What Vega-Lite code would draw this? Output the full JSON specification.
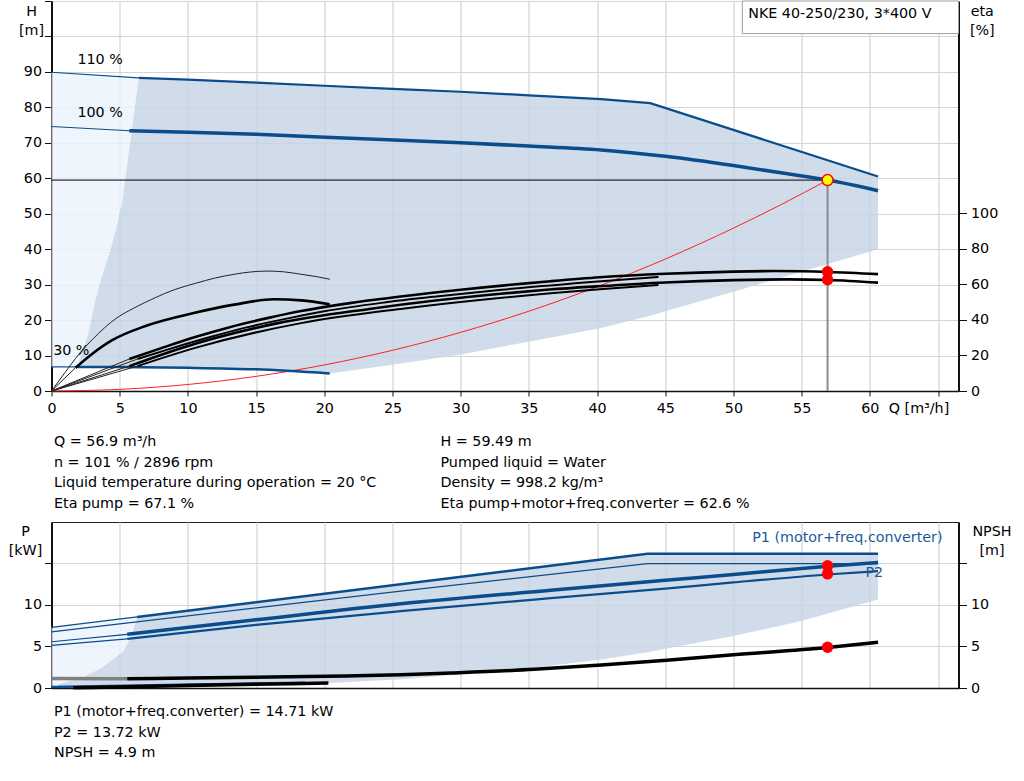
{
"$schema": "https://vega.github.io/schema/vega-lite/v6.json",
"padding": {"left": 7.5, "top": 0, "right": 5, "bottom": 0},
"bounds": "flush",
"spacing": 0,
"config": {
  "font": "DejaVu Sans",
  "view": {"stroke": null},
  "axis": {"labelFontSize": 14.3, "titleFontSize": 14.3, "titleFontWeight": "normal", "labelColor": "#000", "titleColor": "#000", "domainColor": "#111", "tickColor": "#111", "gridColor": "#d4d4d4", "gridWidth": 1.2, "labelFont": "DejaVu Sans", "titleFont": "DejaVu Sans"},
  "text": {"font": "DejaVu Sans", "fontSize": 14.3}
},
"datasets": {
  "lightTop": [
    {"Q":0,"lo":6.8,"hi":89.9},{"Q":1.9,"lo":6.8,"hi":89.43},{"Q":2.7,"lo":16.1,"hi":89.23},{"Q":3.2,"lo":25.4,"hi":89.1},{"Q":3.6,"lo":31,"hi":89.0},{"Q":4.3,"lo":39.5,"hi":88.83},{"Q":4.7,"lo":45.1,"hi":88.73},{"Q":5.2,"lo":53.6,"hi":88.6},{"Q":5.8,"lo":71,"hi":88.45},{"Q":6.4,"lo":88.3,"hi":88.3}
  ],
  "greyTop": [
    {"Q":1.9,"lo":6.8,"hi":6.8},{"Q":2.7,"lo":6.8,"hi":16.1},{"Q":3.2,"lo":6.8,"hi":25.4},{"Q":3.6,"lo":6.8,"hi":31},{"Q":4.3,"lo":6.75,"hi":39.5},{"Q":4.7,"lo":6.75,"hi":45.1},{"Q":5.2,"lo":6.75,"hi":53.6},{"Q":5.8,"lo":6.72,"hi":71},{"Q":6.4,"lo":6.7,"hi":88.3},{"Q":10,"lo":6.55,"hi":87.8},{"Q":15,"lo":6.1,"hi":87.0},{"Q":20.4,"lo":4.95,"hi":86.0},{"Q":25,"lo":7.4,"hi":85.2},{"Q":30,"lo":10.3,"hi":84.4},{"Q":35,"lo":13.9,"hi":83.4},{"Q":40.3,"lo":17.8,"hi":82.3},{"Q":43.9,"lo":21.2,"hi":81.2},{"Q":45,"lo":22.5,"hi":79.8},{"Q":50,"lo":28.0,"hi":73.6},{"Q":55,"lo":33.6,"hi":67.4},{"Q":60.6,"lo":40.0,"hi":60.5}
  ],
  "hThin": [
    {"s":"110a","Q":0,"H":89.9},{"s":"110a","Q":6.4,"H":88.3},
    {"s":"100a","Q":0,"H":74.6},{"s":"100a","Q":5.7,"H":73.4},
    {"s":"30a","Q":0,"H":6.8},{"s":"30a","Q":1.8,"H":6.8}
  ],
  "h110": [
    {"Q":6.4,"H":88.3},{"Q":10,"H":87.8},{"Q":15,"H":87.0},{"Q":20,"H":86.1},{"Q":25,"H":85.2},{"Q":30,"H":84.4},{"Q":35,"H":83.4},{"Q":40.3,"H":82.3},{"Q":43.9,"H":81.2},{"Q":60.6,"H":60.5}
  ],
  "h100": [
    {"Q":5.7,"H":73.4},{"Q":10,"H":73.0},{"Q":15,"H":72.4},{"Q":21.9,"H":71.3},{"Q":30,"H":70.0},{"Q":35,"H":69.1},{"Q":40.3,"H":68.0},{"Q":45,"H":66.2},{"Q":50,"H":63.6},{"Q":54.9,"H":60.7},{"Q":56.9,"H":59.49},{"Q":60.6,"H":56.5}
  ],
  "h30": [
    {"Q":1.8,"H":6.8},{"Q":5,"H":6.75},{"Q":10,"H":6.55},{"Q":15,"H":6.1},{"Q":20.4,"H":4.95}
  ],
  "sys": [
    {"Q":0,"H":0},{"Q":5,"H":0.46},{"Q":10,"H":1.84},{"Q":15,"H":4.13},{"Q":20,"H":7.35},{"Q":25,"H":11.48},{"Q":30,"H":16.54},{"Q":35,"H":22.51},{"Q":40,"H":29.4},{"Q":45,"H":37.21},{"Q":50,"H":45.94},{"Q":53.5,"H":52.59},{"Q":56.9,"H":59.49}
  ],
  "opH": [{"Q":0,"H":59.49},{"Q":56.9,"H":59.49}],
  "opV": [{"Q":56.9,"H":0},{"Q":56.9,"H":59.49}],
  "op": [{"Q":56.9,"H":59.49}],
  "labelsTop": [
    {"Q":1.9,"H":93.4,"t":"110 %"},{"Q":1.9,"H":78.3,"t":"100 %"},{"Q":0.12,"H":11.3,"t":"30 %"}
  ],
  "box": [{"Q":50.65,"Q2":66.5,"H":100.8,"H2":110}],
  "boxText": [{"Q":51.08,"H":106.3,"t":"NKE 40-250/230, 3*400 V"}],
  "etaThin": [
    {"s":"p30","Q":0,"E":0},{"s":"p30","Q":1,"E":10.5},{"s":"p30","Q":2,"E":20.6},{"s":"p30","Q":3,"E":29},{"s":"p30","Q":4.8,"E":41.2},{"s":"p30","Q":6,"E":46.5},{"s":"p30","Q":7.6,"E":52.5},{"s":"p30","Q":9,"E":57},{"s":"p30","Q":10.56,"E":60.6},{"s":"p30","Q":12,"E":63.6},{"s":"p30","Q":13.4,"E":65.7},{"s":"p30","Q":14.6,"E":67},{"s":"p30","Q":15.8,"E":67.5},{"s":"p30","Q":17,"E":67.1},{"s":"p30","Q":18.3,"E":65.7},{"s":"p30","Q":19.4,"E":64.4},{"s":"p30","Q":20.4,"E":62.9},
    {"s":"t30a","Q":0,"E":0},{"s":"t30a","Q":1.76,"E":13.1},
    {"s":"p100a","Q":0,"E":0},{"s":"p100a","Q":5.7,"E":18},
    {"s":"p110a","Q":0,"E":0},{"s":"p110a","Q":6.3,"E":18},
    {"s":"t100a","Q":0,"E":0},{"s":"t100a","Q":5.7,"E":14},
    {"s":"t110a","Q":0,"E":0},{"s":"t110a","Q":6.3,"E":14}
  ],
  "etaThick": [
    {"s":"t30","Q":1.76,"E":13.1},{"s":"t30","Q":3,"E":21},{"s":"t30","Q":4.45,"E":28.6},{"s":"t30","Q":6.9,"E":36.6},{"s":"t30","Q":10.5,"E":44},{"s":"t30","Q":13.4,"E":48.6},{"s":"t30","Q":16.3,"E":51.6},{"s":"t30","Q":18.3,"E":51},{"s":"t30","Q":20.4,"E":48.8},
    {"s":"p100","Q":5.7,"E":18},{"s":"p100","Q":8,"E":24},{"s":"p100","Q":10.6,"E":30.5},{"s":"p100","Q":13,"E":35.8},{"s":"p100","Q":16,"E":41.3},{"s":"p100","Q":18.3,"E":45},{"s":"p100","Q":22,"E":49.6},{"s":"p100","Q":25.6,"E":53.2},{"s":"p100","Q":30,"E":57},{"s":"p100","Q":36.6,"E":61.8},{"s":"p100","Q":40.2,"E":64},{"s":"p100","Q":45,"E":66},{"s":"p100","Q":50,"E":67.2},{"s":"p100","Q":53,"E":67.5},{"s":"p100","Q":57,"E":67},{"s":"p100","Q":60.6,"E":65.8},
    {"s":"t100","Q":5.7,"E":14},{"s":"t100","Q":9.6,"E":24.4},{"s":"t100","Q":16.6,"E":38.2},{"s":"t100","Q":23.3,"E":46.2},{"s":"t100","Q":33.3,"E":55},{"s":"t100","Q":36.5,"E":57.1},{"s":"t100","Q":40,"E":58.9},{"s":"t100","Q":45,"E":61.1},{"s":"t100","Q":50,"E":62.4},{"s":"t100","Q":54,"E":62.8},{"s":"t100","Q":57,"E":62.5},{"s":"t100","Q":60.6,"E":61.0}
  ],
  "etaThick2": [
    {"s":"p110","Q":6.3,"E":18},{"s":"p110","Q":8.8,"E":24},{"s":"p110","Q":11.7,"E":30.5},{"s":"p110","Q":14.3,"E":35.8},{"s":"p110","Q":17.6,"E":41.3},{"s":"p110","Q":20.1,"E":45},{"s":"p110","Q":24.2,"E":49.6},{"s":"p110","Q":28.2,"E":53.2},{"s":"p110","Q":33,"E":57},{"s":"p110","Q":40.3,"E":61.8},{"s":"p110","Q":44.5,"E":64.2},
    {"s":"t110","Q":6.3,"E":14},{"s":"t110","Q":10.6,"E":24.4},{"s":"t110","Q":18.3,"E":38.2},{"s":"t110","Q":25.6,"E":46.2},{"s":"t110","Q":36.6,"E":55},{"s":"t110","Q":40.2,"E":57.3},{"s":"t110","Q":44.5,"E":59.6}
  ],
  "etaDots": [{"Q":56.9,"E":67.1},{"Q":56.9,"E":62.6}],
  "lightBot": [
    {"Q":0,"lo":0.12,"hi":7.3},{"Q":0.5,"lo":0.44,"hi":7.4},{"Q":2.25,"lo":1.24,"hi":7.75},{"Q":3.7,"lo":2.44,"hi":8.05},{"Q":5.3,"lo":4.44,"hi":8.35},{"Q":5.9,"lo":6.45,"hi":8.47},{"Q":6.28,"lo":8.55,"hi":8.55}
  ],
  "greyBot": [
    {"Q":0.5,"lo":0.15,"hi":0.44},{"Q":2.25,"lo":0.2,"hi":1.24},{"Q":3.7,"lo":0.25,"hi":2.44},{"Q":5.3,"lo":0.3,"hi":4.44},{"Q":5.9,"lo":0.32,"hi":6.45},{"Q":6.28,"lo":0.33,"hi":8.55},{"Q":10,"lo":0.38,"hi":9.31},{"Q":15,"lo":0.46,"hi":10.32},{"Q":20.4,"lo":0.6,"hi":11.42},{"Q":25.6,"lo":1.04,"hi":12.47},{"Q":30.5,"lo":1.72,"hi":13.47},{"Q":35.4,"lo":2.44,"hi":14.46},{"Q":40.3,"lo":3.44,"hi":15.46},{"Q":43.7,"lo":4.3,"hi":16.15},{"Q":45.1,"lo":4.76,"hi":16.15},{"Q":50,"lo":6.24,"hi":16.15},{"Q":54.9,"lo":8.04,"hi":16.15},{"Q":60.6,"lo":10.65,"hi":16.15}
  ],
  "pThin": [
    {"s":"P1_110a","Q":0,"P":7.3},{"s":"P1_110a","Q":6.28,"P":8.55},
    {"s":"P2_110","Q":0,"P":6.76},{"s":"P2_110","Q":25.6,"P":11.65},{"s":"P2_110","Q":43.7,"P":14.95},{"s":"P2_110","Q":60.6,"P":14.95},
    {"s":"P1_100a","Q":0,"P":5.56},{"s":"P1_100a","Q":5.55,"P":6.45},
    {"s":"P2_100a","Q":0,"P":5.12},{"s":"P2_100a","Q":5.55,"P":5.9}
  ],
  "p110": [{"Q":6.28,"P":8.55},{"Q":25.6,"P":12.47},{"Q":43.7,"P":16.15},{"Q":60.6,"P":16.15}],
  "p100": [{"Q":5.55,"P":6.45},{"Q":15,"P":8.2},{"Q":25.6,"P":10.12},{"Q":36.6,"P":11.75},{"Q":45,"P":12.95},{"Q":50,"P":13.65},{"Q":56.9,"P":14.65},{"Q":60.6,"P":15.1}],
  "p2_100": [{"Q":5.55,"P":5.9},{"Q":15,"P":7.6},{"Q":25.6,"P":9.24},{"Q":36.6,"P":10.8},{"Q":45,"P":11.95},{"Q":50,"P":12.7},{"Q":56.9,"P":13.65},{"Q":60.6,"P":14.05}],
  "p30": [{"Q":0,"P":0.12},{"Q":18.6,"P":0.64}],
  "pDots": [{"Q":56.9,"P":14.71},{"Q":56.9,"P":13.72}],
  "pText": [{"Q":51.37,"P":17.98,"t":"P1 (motor+freq.converter)"},{"Q":59.68,"P":13.77,"t":"P2"}],
  "nGrey": [{"Q":0,"N":1.15},{"Q":5.55,"N":1.12}],
  "nBlack": [
    {"s":"n100","Q":5.55,"N":1.1},{"s":"n100","Q":10,"N":1.2},{"s":"n100","Q":15,"N":1.3},{"s":"n100","Q":21.6,"N":1.45},{"s":"n100","Q":25.6,"N":1.58},{"s":"n100","Q":29.3,"N":1.8},{"s":"n100","Q":35.4,"N":2.24},{"s":"n100","Q":40.3,"N":2.76},{"s":"n100","Q":45.1,"N":3.35},{"s":"n100","Q":50,"N":4.0},{"s":"n100","Q":56.9,"N":4.88},{"s":"n100","Q":60.6,"N":5.5},
    {"s":"n30","Q":1.6,"N":0.02},{"s":"n30","Q":10,"N":0.3},{"s":"n30","Q":20.3,"N":0.6}
  ],
  "nDot": [{"Q":56.9,"N":4.9}],
  "info1": [
    {"col":0,"row":0,"t":"Q = 56.9 m³/h"},{"col":0,"row":1,"t":"n = 101 % / 2896 rpm"},{"col":0,"row":2,"t":"Liquid temperature during operation = 20 °C"},{"col":0,"row":3,"t":"Eta pump = 67.1 %"},
    {"col":1,"row":0,"t":"H = 59.49 m"},{"col":1,"row":1,"t":"Pumped liquid = Water"},{"col":1,"row":2,"t":"Density = 998.2 kg/m³"},{"col":1,"row":3,"t":"Eta pump+motor+freq.converter = 62.6 %"}
  ],
  "info2": [
    {"col":0,"row":0,"t":"P1 (motor+freq.converter) = 14.71 kW"},{"col":0,"row":1,"t":"P2 = 13.72 kW"},{"col":0,"row":2,"t":"NPSH = 4.9 m"}
  ]
},
"vconcat": [
  {
    "width": 907, "height": 390,
    "view": {"stroke": "#9e9e9e", "strokeWidth": 1},
    "encoding": {
      "x": {"field": "Q", "type": "quantitative", "scale": {"domain": [0, 66.5], "nice": false, "zero": false},
        "axis": {"values": [0,5,10,15,20,25,30,35,40,45,50,55,60,65], "title": "Q [m³/h]", "titleX": 867, "titleY": 17.5, "titleAlign": "center", "titleBaseline": "middle", "labelExpr": "datum.value > 62 ? '' : datum.label", "tickSize": 5, "labelPadding": 5, "grid": true, "domainWidth": 1.5, "labelFlush": false, "labelOverlap": false}}
    },
    "layer": [
      {"data": {"name": "lightTop"}, "mark": {"type": "area", "fill": "#eaf3fc", "fillOpacity": 0.8, "stroke": null},
       "encoding": {"y": {"field": "lo", "type": "quantitative", "scale": {"domain": [0, 110], "nice": false, "zero": false},
         "axis": {"orient": "left", "values": [0,10,20,30,40,50,60,70,80,90,100,110], "title": ["H", "[m]"], "titleAngle": 0, "titleX": -20.5, "titleY": 3, "titleAlign": "center", "titleBaseline": "top", "titleLineHeight": 19, "labelExpr": "datum.value >= 100 ? '' : datum.label", "tickSize": 7, "labelPadding": 3, "grid": true, "domainWidth": 2}},
         "y2": {"field": "hi"}}},
      {"data": {"name": "greyTop"}, "mark": {"type": "area", "fill": "#c4d3e3", "fillOpacity": 0.8, "stroke": null},
       "encoding": {"y": {"field": "lo", "type": "quantitative", "scale": {"domain": [0, 110], "nice": false, "zero": false}, "axis": null}, "y2": {"field": "hi"}}},
      {"data": {"name": "opV"}, "mark": {"type": "line", "color": "#8c8c8c", "strokeWidth": 2},
       "encoding": {"y": {"field": "H", "type": "quantitative", "scale": {"domain": [0, 110], "nice": false, "zero": false}, "axis": null}}},
      {"data": {"name": "opH"}, "mark": {"type": "line", "color": "#000000", "strokeWidth": 1},
       "encoding": {"y": {"field": "H", "type": "quantitative", "scale": {"domain": [0, 110], "nice": false, "zero": false}, "axis": null}}},
      {"data": {"name": "sys"}, "mark": {"type": "line", "color": "#ff2020", "strokeWidth": 1, "interpolate": "monotone"},
       "encoding": {"y": {"field": "H", "type": "quantitative", "scale": {"domain": [0, 110], "nice": false, "zero": false}, "axis": null}}},
      {"data": {"name": "hThin"}, "mark": {"type": "line", "color": "#0b4c8c", "strokeWidth": 1.2},
       "encoding": {"y": {"field": "H", "type": "quantitative", "scale": {"domain": [0, 110], "nice": false, "zero": false}, "axis": null}, "detail": {"field": "s"}}},
      {"data": {"name": "h30"}, "mark": {"type": "line", "color": "#0b4c8c", "strokeWidth": 2.5, "interpolate": "monotone"},
       "encoding": {"y": {"field": "H", "type": "quantitative", "scale": {"domain": [0, 110], "nice": false, "zero": false}, "axis": null}}},
      {"data": {"name": "h110"}, "mark": {"type": "line", "color": "#0b4c8c", "strokeWidth": 2.2},
       "encoding": {"y": {"field": "H", "type": "quantitative", "scale": {"domain": [0, 110], "nice": false, "zero": false}, "axis": null}}},
      {"data": {"name": "h100"}, "mark": {"type": "line", "color": "#0b4c8c", "strokeWidth": 3.5, "interpolate": "monotone"},
       "encoding": {"y": {"field": "H", "type": "quantitative", "scale": {"domain": [0, 110], "nice": false, "zero": false}, "axis": null}}},
      {"data": {"name": "box"}, "mark": {"type": "rect", "fill": "#ffffff", "stroke": "#9e9e9e", "strokeWidth": 1},
       "encoding": {"x2": {"field": "Q2"}, "y": {"field": "H", "type": "quantitative", "scale": {"domain": [0, 110], "nice": false, "zero": false}, "axis": null}, "y2": {"field": "H2"}}},
      {"data": {"name": "boxText"}, "mark": {"type": "text", "align": "left", "baseline": "middle", "color": "#000"},
       "encoding": {"y": {"field": "H", "type": "quantitative", "scale": {"domain": [0, 110], "nice": false, "zero": false}, "axis": null}, "text": {"field": "t"}}},
      {"data": {"name": "labelsTop"}, "mark": {"type": "text", "align": "left", "baseline": "middle", "color": "#000"},
       "encoding": {"y": {"field": "H", "type": "quantitative", "scale": {"domain": [0, 110], "nice": false, "zero": false}, "axis": null}, "text": {"field": "t"}}},
      {"data": {"name": "etaThin"}, "mark": {"type": "line", "color": "#222222", "strokeWidth": 1, "interpolate": "monotone"},
       "encoding": {"y": {"field": "E", "type": "quantitative", "scale": {"domain": [0, 219.5], "nice": false, "zero": false},
         "axis": {"orient": "right", "values": [0,20,40,60,80,100], "title": ["eta", "[%]"], "titleAngle": 0, "titleX": 23.3, "titleY": 3, "titleAlign": "center", "titleBaseline": "top", "titleLineHeight": 19, "tickSize": 8, "labelPadding": 4, "grid": false, "domainWidth": 2}},
         "detail": {"field": "s"}}},
      {"data": {"name": "etaThick2"}, "mark": {"type": "line", "color": "#000000", "strokeWidth": 2, "interpolate": "monotone"},
       "encoding": {"y": {"field": "E", "type": "quantitative", "scale": {"domain": [0, 219.5], "nice": false, "zero": false}, "axis": null}, "detail": {"field": "s"}}},
      {"data": {"name": "etaThick"}, "mark": {"type": "line", "color": "#000000", "strokeWidth": 2.6, "interpolate": "monotone"},
       "encoding": {"y": {"field": "E", "type": "quantitative", "scale": {"domain": [0, 219.5], "nice": false, "zero": false}, "axis": null}, "detail": {"field": "s"}}},
      {"data": {"name": "etaDots"}, "mark": {"type": "point", "shape": "circle", "filled": true, "color": "#ff0000", "size": 130, "opacity": 1},
       "encoding": {"y": {"field": "E", "type": "quantitative", "scale": {"domain": [0, 219.5], "nice": false, "zero": false}, "axis": null}}},
      {"data": {"name": "op"}, "mark": {"type": "point", "shape": "circle", "filled": true, "fill": "#ffff00", "stroke": "#ff0000", "strokeWidth": 1.5, "size": 120, "opacity": 1},
       "encoding": {"y": {"field": "H", "type": "quantitative", "scale": {"domain": [0, 110], "nice": false, "zero": false}, "axis": null}}}
    ],
    "resolve": {"scale": {"y": "independent"}}
  },
  {
    "width": 907, "height": 131,
    "data": {"name": "info1"},
    "mark": {"type": "text", "align": "left", "baseline": "middle", "color": "#000"},
    "encoding": {
      "x": {"field": "col", "type": "quantitative", "scale": {"domain": [0, 1], "range": [2.5, 389]}, "axis": null},
      "y": {"field": "row", "type": "quantitative", "scale": {"domain": [0, 3], "range": [51, 113]}, "axis": null},
      "text": {"field": "t"}
    }
  },
  {
    "width": 907, "height": 166,
    "view": {"stroke": "#222222", "strokeWidth": 1},
    "encoding": {
      "x": {"field": "Q", "type": "quantitative", "scale": {"domain": [0, 66.5], "nice": false, "zero": false},
        "axis": {"values": [0,5,10,15,20,25,30,35,40,45,50,55,60,65], "labels": false, "ticks": false, "title": null, "grid": true, "domainWidth": 1.5}}
    },
    "layer": [
      {"data": {"name": "lightBot"}, "mark": {"type": "area", "fill": "#eaf3fc", "fillOpacity": 0.8, "stroke": null},
       "encoding": {"y": {"field": "lo", "type": "quantitative", "scale": {"domain": [0, 19.96], "nice": false, "zero": false},
         "axis": {"orient": "left", "values": [0,5,10,15], "title": ["P", "[kW]"], "titleAngle": 0, "titleX": -26.5, "titleY": 2, "titleAlign": "center", "titleBaseline": "top", "titleLineHeight": 19, "labelExpr": "datum.value >= 15 ? '' : datum.label", "tickSize": 7, "labelPadding": 3, "grid": true, "domainWidth": 2}},
         "y2": {"field": "hi"}}},
      {"data": {"name": "greyBot"}, "mark": {"type": "area", "fill": "#c4d3e3", "fillOpacity": 0.8, "stroke": null},
       "encoding": {"y": {"field": "lo", "type": "quantitative", "scale": {"domain": [0, 19.96], "nice": false, "zero": false}, "axis": null}, "y2": {"field": "hi"}}},
      {"data": {"name": "pThin"}, "mark": {"type": "line", "color": "#0b4c8c", "strokeWidth": 1.2},
       "encoding": {"y": {"field": "P", "type": "quantitative", "scale": {"domain": [0, 19.96], "nice": false, "zero": false}, "axis": null}, "detail": {"field": "s"}}},
      {"data": {"name": "p30"}, "mark": {"type": "line", "color": "#0b4c8c", "strokeWidth": 2.5},
       "encoding": {"y": {"field": "P", "type": "quantitative", "scale": {"domain": [0, 19.96], "nice": false, "zero": false}, "axis": null}}},
      {"data": {"name": "p110"}, "mark": {"type": "line", "color": "#0b4c8c", "strokeWidth": 2.5},
       "encoding": {"y": {"field": "P", "type": "quantitative", "scale": {"domain": [0, 19.96], "nice": false, "zero": false}, "axis": null}}},
      {"data": {"name": "p2_100"}, "mark": {"type": "line", "color": "#0b4c8c", "strokeWidth": 2.2, "interpolate": "monotone"},
       "encoding": {"y": {"field": "P", "type": "quantitative", "scale": {"domain": [0, 19.96], "nice": false, "zero": false}, "axis": null}}},
      {"data": {"name": "p100"}, "mark": {"type": "line", "color": "#0b4c8c", "strokeWidth": 3.5, "interpolate": "monotone"},
       "encoding": {"y": {"field": "P", "type": "quantitative", "scale": {"domain": [0, 19.96], "nice": false, "zero": false}, "axis": null}}},
      {"data": {"name": "pText"}, "mark": {"type": "text", "align": "left", "baseline": "middle", "color": "#1b5a98"},
       "encoding": {"y": {"field": "P", "type": "quantitative", "scale": {"domain": [0, 19.96], "nice": false, "zero": false}, "axis": null}, "text": {"field": "t"}}},
      {"data": {"name": "nGrey"}, "mark": {"type": "line", "color": "#808080", "strokeWidth": 3.5},
       "encoding": {"y": {"field": "N", "type": "quantitative", "scale": {"domain": [0, 19.96], "nice": false, "zero": false},
         "axis": {"orient": "right", "values": [0,5,10,15], "title": ["NPSH", "[m]"], "titleAngle": 0, "titleX": 33, "titleY": 2, "titleAlign": "center", "titleBaseline": "top", "titleLineHeight": 19, "labelExpr": "datum.value >= 15 ? '' : datum.label", "tickSize": 8, "labelPadding": 4, "grid": false, "domainWidth": 2}}}},
      {"data": {"name": "nBlack"}, "mark": {"type": "line", "color": "#000000", "strokeWidth": 3.5, "interpolate": "monotone"},
       "encoding": {"y": {"field": "N", "type": "quantitative", "scale": {"domain": [0, 19.96], "nice": false, "zero": false}, "axis": null}, "detail": {"field": "s"}}},
      {"data": {"name": "pDots"}, "mark": {"type": "point", "shape": "circle", "filled": true, "color": "#ff0000", "size": 130, "opacity": 1},
       "encoding": {"y": {"field": "P", "type": "quantitative", "scale": {"domain": [0, 19.96], "nice": false, "zero": false}, "axis": null}}},
      {"data": {"name": "nDot"}, "mark": {"type": "point", "shape": "circle", "filled": true, "color": "#ff0000", "size": 130, "opacity": 1},
       "encoding": {"y": {"field": "N", "type": "quantitative", "scale": {"domain": [0, 19.96], "nice": false, "zero": false}, "axis": null}}}
    ],
    "resolve": {"scale": {"y": "independent"}}
  },
  {
    "width": 907, "height": 94,
    "data": {"name": "info2"},
    "mark": {"type": "text", "align": "left", "baseline": "middle", "color": "#000"},
    "encoding": {
      "x": {"field": "col", "type": "quantitative", "scale": {"domain": [0, 1], "range": [2.5, 389]}, "axis": null},
      "y": {"field": "row", "type": "quantitative", "scale": {"domain": [0, 2], "range": [24, 65]}, "axis": null},
      "text": {"field": "t"}
    }
  }
]
}
